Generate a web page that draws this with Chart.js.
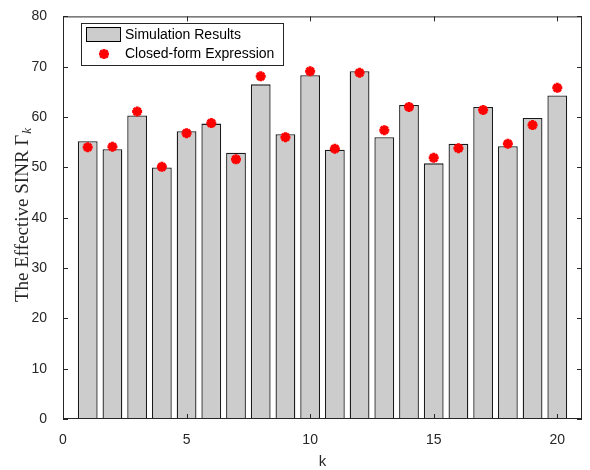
<!DOCTYPE html>
<html>
<head>
<meta charset="utf-8">
<script src="https://cdn.jsdelivr.net/npm/chart.js"></script>
<style>
  html, body { margin: 0; padding: 0; background: #fff; }
  #wrap { width: 590px; height: 470px; }
</style>
</head>
<body>
<div id="wrap"><canvas id="chart" width="590" height="470"></canvas></div>
<script>
// data
const users = [1, 2, 3, 4, 5, 6, 7, 8, 9, 10, 11, 12, 13, 14, 15, 16, 17, 18, 19, 20];
const simulationResults = [55.2, 53.6, 60.3, 50.0, 57.2, 58.7, 52.9, 66.5, 56.6, 68.3,
                           53.5, 69.1, 56.0, 62.4, 50.8, 54.7, 62.0, 54.2, 59.8, 64.3];
const closedForm = [54.0, 54.1, 61.1, 50.1, 56.8, 58.8, 51.6, 68.1, 56.0, 69.1,
                    53.7, 68.8, 57.4, 62.0, 51.9, 53.8, 61.4, 54.7, 58.4, 65.8];
const xTicks = [0, 5, 10, 15, 20];
const yTicks = [0, 10, 20, 30, 40, 50, 60, 70, 80];

const axisColor = '#262626';
const sansFont = '"Liberation Sans", Arial, Helvetica, sans-serif';
const serifFont = '"Liberation Serif", "Times New Roman", serif';

const barPoints = users.map((k, i) => ({ x: k, y: simulationResults[i] }));
const markerPoints = users.map((k, i) => ({ x: k, y: closedForm[i] }));

// frame, inward ticks, axis titles and the legend box
const matlabAxes = {
    id: 'matlabAxes',
    afterDatasetsDraw(chart) {
        const ctx = chart.ctx;
        const area = chart.chartArea;
        const xs = chart.scales.x;
        const ys = chart.scales.y;
        const tickLen = 5;

        ctx.save();
        ctx.strokeStyle = axisColor;
        ctx.lineWidth = 1;
        ctx.strokeRect(area.left + 0.5, area.top + 0.5, area.right - area.left - 1, area.bottom - area.top - 1);

        ctx.beginPath();
        xTicks.forEach(v => {
            const px = Math.round(xs.getPixelForValue(v)) + 0.5;
            ctx.moveTo(px, area.bottom);
            ctx.lineTo(px, area.bottom - tickLen);
            ctx.moveTo(px, area.top);
            ctx.lineTo(px, area.top + tickLen);
        });
        yTicks.forEach(v => {
            const py = Math.round(ys.getPixelForValue(v)) + 0.5;
            ctx.moveTo(area.left, py);
            ctx.lineTo(area.left + tickLen, py);
            ctx.moveTo(area.right, py);
            ctx.lineTo(area.right - tickLen, py);
        });
        ctx.stroke();
        ctx.restore();
    },
    afterDraw(chart) {
        const ctx = chart.ctx;
        const area = chart.chartArea;

        ctx.save();
        ctx.fillStyle = axisColor;

        // x title
        ctx.font = '15px ' + sansFont;
        ctx.textAlign = 'center';
        ctx.textBaseline = 'middle';
        ctx.fillText('k', (area.left + area.right) / 2, 462);

        // y title with subscript k
        const main = 'The Effective SINR \u0393';
        ctx.translate(21, 215);
        ctx.rotate(-Math.PI / 2);
        ctx.font = '19px ' + serifFont;
        const w1 = ctx.measureText(main).width;
        ctx.font = 'italic 13px ' + serifFont;
        const w2 = ctx.measureText('k').width;
        const start = -(w1 + w2 + 1) / 2;
        ctx.textAlign = 'left';
        ctx.textBaseline = 'alphabetic';
        ctx.font = '19px ' + serifFont;
        ctx.fillText(main, start, 7);
        ctx.font = 'italic 13px ' + serifFont;
        ctx.fillText('k', start + w1 + 1, 10);
        ctx.restore();

        // legend
        ctx.save();
        ctx.fillStyle = '#ffffff';
        ctx.fillRect(81, 23, 202, 42);
        ctx.strokeStyle = axisColor;
        ctx.lineWidth = 1;
        ctx.strokeRect(81.5, 23.5, 202, 42);

        ctx.fillStyle = '#cccccc';
        ctx.fillRect(86, 27, 35, 15);
        ctx.strokeStyle = '#000000';
        ctx.strokeRect(86.5, 27.5, 34, 14);

        Chart.helpers.drawPoint(ctx, {
            pointStyle: 'star',
            radius: 5,
            rotation: 0,
            borderWidth: 3
        }, 104, 54);
        ctx.strokeStyle = '#ff0000';
        ctx.lineWidth = 3;
        ctx.stroke();

        ctx.fillStyle = '#000000';
        ctx.font = '14px ' + sansFont;
        ctx.textAlign = 'left';
        ctx.textBaseline = 'middle';
        ctx.fillText('Simulation Results', 125, 35);
        ctx.fillText('Closed-form Expression', 125, 54);
        ctx.restore();
    }
};

const chart = new Chart(document.getElementById('chart').getContext('2d'), {
    type: 'bar',
    data: {
        datasets: [
            {
                type: 'line',
                label: 'Closed-form Expression',
                data: markerPoints,
                showLine: false,
                pointStyle: 'star',
                pointRadius: 5,
                pointBorderWidth: 3,
                pointBorderColor: '#ff0000',
                pointBackgroundColor: '#ff0000',
                order: 0
            },
            {
                label: 'Simulation Results',
                data: barPoints,
                backgroundColor: '#cccccc',
                borderColor: '#1a1a1a',
                borderWidth: 1.3,
                categoryPercentage: 1,
                barPercentage: 0.8,
                order: 1
            }
        ]
    },
    options: {
        responsive: false,
        animation: false,
        layout: { padding: { top: 9, right: 8, left: 0, bottom: 0 } },
        plugins: {
            legend: { display: false },
            tooltip: { enabled: false }
        },
        scales: {
            x: {
                type: 'linear',
                min: 0,
                max: 21,
                offset: false,
                grid: { display: false },
                border: { display: false },
                ticks: {
                    stepSize: 5,
                    padding: 5,
                    maxRotation: 0,
                    color: axisColor,
                    font: { family: sansFont, size: 14 }
                },
                afterBuildTicks(scale) {
                    scale.ticks = xTicks.map(v => ({ value: v }));
                },
                afterFit(scale) {
                    scale.height = 51;
                }
            },
            y: {
                min: 0,
                max: 80,
                grid: { display: false },
                border: { display: false },
                ticks: {
                    stepSize: 10,
                    padding: 8,
                    color: axisColor,
                    font: { family: sansFont, size: 14 }
                },
                afterBuildTicks(scale) {
                    scale.ticks = yTicks.map(v => ({ value: v }));
                },
                afterFit(scale) {
                    scale.width = 63;
                }
            }
        }
    },
    plugins: [matlabAxes]
});
</script>
</body>
</html>
